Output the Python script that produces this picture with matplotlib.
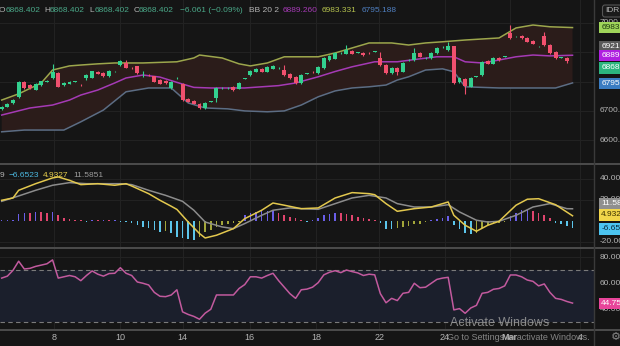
import numpy as np
import matplotlib.pyplot as plt
from matplotlib.lines import Line2D

plt.rcParams['font.family'] = ['Liberation Sans', 'DejaVu Sans']

# ---- 4h candles ----
opens = [6707, 6714, 6726, 6749, 6799, 6788, 6772, 6788, 6800, 6812,
         6829, 6788, 6792, 6800, 6789, 6812, 6813, 6833, 6830, 6817,
         6834, 6856, 6864, 6847, 6851, 6829, 6823, 6817, 6805, 6802,
         6778, 6812, 6792, 6741, 6734, 6724, 6710, 6731, 6744, 6778,
         6778, 6782, 6775, 6809, 6822, 6833, 6843, 6833, 6843, 6846,
         6839, 6826, 6816, 6795, 6826, 6833, 6829, 6846, 6873, 6877,
         6897, 6894, 6904, 6898, 6897, 6897, 6901, 6880, 6856, 6829,
         6846, 6833, 6873, 6873, 6897, 6880, 6880, 6897, 6917, 6907,
         6919, 6799, 6809, 6782, 6816, 6822, 6870, 6860, 6880, 6884,
         6965, 6953, 6956, 6949, 6938, 6919, 6953, 6924, 6901, 6881,
         6881, 6868.402]
highs = [6716, 6726, 6740, 6801, 6803, 6790, 6795, 6802, 6804, 6860,
         6832, 6797, 6801, 6803, 6791, 6826, 6836, 6835, 6832, 6838,
         6837, 6873, 6872, 6849, 6853, 6834, 6825, 6819, 6807, 6804,
         6801, 6814, 6795, 6743, 6736, 6726, 6729, 6733, 6780, 6780,
         6781, 6784, 6797, 6811, 6838, 6845, 6845, 6852, 6855, 6848,
         6856, 6828, 6818, 6824, 6828, 6835, 6852, 6882, 6889, 6899,
         6899, 6924, 6906, 6900, 6899, 6899, 6903, 6901, 6858, 6848,
         6848, 6865, 6875, 6914, 6899, 6882, 6899, 6916, 6920, 6935,
         6921, 6814, 6811, 6814, 6818, 6869, 6872, 6882, 6882, 6886,
         6992, 6955, 6958, 6951, 6940, 6921, 6969, 6926, 6903, 6883,
         6883, 6868.402]
lows = [6704, 6712, 6724, 6745, 6776, 6776, 6770, 6786, 6798, 6808,
        6780, 6786, 6790, 6798, 6786, 6805, 6811, 6824, 6815, 6815,
        6832, 6854, 6845, 6844, 6826, 6816, 6820, 6798, 6790, 6793,
        6776, 6810, 6735, 6729, 6722, 6707, 6708, 6729, 6732, 6776,
        6776, 6769, 6773, 6807, 6820, 6831, 6831, 6831, 6841, 6844,
        6820, 6810, 6790, 6793, 6824, 6830, 6827, 6844, 6871, 6875,
        6895, 6892, 6892, 6896, 6888, 6894, 6899, 6854, 6827, 6827,
        6822, 6831, 6871, 6871, 6882, 6878, 6878, 6895, 6915, 6905,
        6793, 6795, 6758, 6780, 6814, 6820, 6858, 6858, 6871, 6882,
        6946, 6951, 6946, 6933, 6926, 6917, 6922, 6895, 6878, 6879,
        6863, 6868.402]
closes = [6714, 6724, 6738, 6799, 6778, 6779, 6792, 6800, 6802, 6833,
          6783, 6795, 6799, 6801, 6788, 6822, 6834, 6826, 6817, 6836,
          6835, 6868, 6847, 6846, 6828, 6829, 6822, 6800, 6792, 6795,
          6799, 6812, 6737, 6731, 6724, 6710, 6727, 6731, 6778, 6778,
          6779, 6771, 6795, 6809, 6836, 6843, 6833, 6850, 6853, 6846,
          6822, 6812, 6795, 6822, 6826, 6832, 6850, 6880, 6887, 6897,
          6897, 6907, 6894, 6898, 6890, 6896, 6901, 6856, 6829, 6846,
          6833, 6863, 6873, 6897, 6884, 6880, 6897, 6914, 6918, 6921,
          6795, 6812, 6785, 6812, 6816, 6867, 6860, 6880, 6873, 6884,
          6948, 6953, 6948, 6935, 6928, 6919, 6924, 6897, 6880, 6881,
          6870, 6868.402]

# ---- Bollinger 20 2 (candle index, price) ----
bb_up_idx = [0, 3, 7, 9, 12, 14, 17, 20, 25, 31, 34, 35, 39, 42, 44, 47, 50, 53,
             56, 59, 62, 65, 69, 72, 75, 78, 82, 88, 91, 94, 97, 101]
bb_up = [6737, 6758, 6795, 6839, 6853, 6856, 6860, 6863, 6863, 6867, 6880, 6890,
         6880, 6860, 6853, 6863, 6884, 6884, 6884, 6897, 6914, 6931, 6931, 6924,
         6931, 6935, 6941, 6948, 6982, 6992, 6986, 6983.3]
bb_mid_idx = [0, 5, 9, 12, 14, 17, 20, 22, 25, 28, 31, 34, 37, 43, 49, 52, 56, 59,
              62, 66, 70, 74, 77, 80, 82, 85, 88, 91, 94, 97, 101]
bb_mid = [6686, 6710, 6720, 6737, 6754, 6771, 6795, 6812, 6822, 6815, 6797, 6780,
          6778, 6778, 6786, 6795, 6816, 6834, 6850, 6867, 6867, 6877, 6884, 6884,
          6867, 6863, 6873, 6884, 6890, 6887, 6889.26]
bb_lo_idx = [0, 4, 11, 14, 18, 22, 26, 30, 31, 33, 36, 40, 43, 47, 50, 53, 56, 59,
             62, 65, 68, 70, 72, 75, 78, 80, 82, 88, 98, 101]
bb_lo = [6629, 6635, 6635, 6663, 6703, 6765, 6778, 6778, 6761, 6727, 6710, 6707,
         6700, 6697, 6700, 6720, 6748, 6768, 6778, 6782, 6788, 6805, 6816, 6839,
         6843, 6833, 6782, 6778, 6778, 6795.19]

# ---- MACD ----
macd_idx = [0, 2, 3, 6, 9, 10, 12, 14, 17, 20, 22, 23, 26, 28, 30, 31, 32, 33, 35,
            36, 38, 41, 43, 46, 48, 50, 53, 56, 59, 62, 65, 66, 68, 70, 73, 76, 79,
            80, 82, 84, 86, 88, 91, 93, 95, 98, 101]
macd_val = [19.7, 21.9, 29.2, 35.5, 41.0, 41.9, 38.7, 34.6, 35.5, 34.0, 35.5, 33.3,
            26.0, 19.7, 14.0, 11.0, 5.0, -1.0, -12.0, -16.2, -13.6, -7.3, 2.2, 10.2,
            17.1, 15.0, 11.7, 12.4, 21.9, 27.0, 26.0, 25.0, 16.5, 9.2, 11.7, 13.3,
            18.1, 5.4, -4.1, -9.8, -4.1, -0.3, 15.0, 20.7, 21.2, 15.5, 4.93]
signal_idx = [0, 3, 6, 9, 12, 15, 17, 21, 23, 26, 29, 32, 34, 36, 39, 41, 43, 46, 48,
              51, 53, 56, 59, 62, 65, 68, 70, 73, 76, 79, 81, 84, 86, 88, 91, 94, 97,
              100, 101]
signal_val = [18.7, 23.8, 29.2, 34.0, 36.5, 35.5, 35.5, 35.5, 34.6, 29.2, 24.4, 18.7,
              10.2, -1.0, -5.7, -7.3, -2.5, 5.4, 10.2, 12.4, 11.7, 11.1, 16.5, 21.9,
              24.4, 21.9, 16.5, 13.3, 13.3, 15.5, 8.6, 0.7, -1.0, -0.3, 5.4, 13.3,
              16.5, 11.7, 11.59]
hist = [0.4, 0.5, 1.0, 7.0, 7.9, 7.3, 8.9, 8.6, 7.9, 8.9,
        5.7, 3.2, 1.9, 1.0, 0.5, -0.3, 0.3, 0.2, 0.3, 0.2,
        0.3, -0.3, -0.8, -1.6, -3.8, -5.4, -7.0, -8.6, -10.2, -9.5,
        -11.5, -14.9, -16.5, -17.1, -18.0, -14.9, -10.2, -8.6, -5.4, -3.8,
        -3.2, -1.9, -0.5, 5.7, 7.3, 8.9, 9.1, 9.5, 10.2, 7.3,
        5.7, 4.1, 2.5, 0.3, -0.3, 0.3, 3.2, 5.7, 7.0, 7.9,
        7.9, 7.0, 5.7, 3.8, 2.5, 2.2, 1.0, -1.6, -7.9, -7.9,
        -6.3, -6.0, -4.8, -3.2, -2.5, -1.0, 0.5, 1.6, 2.5, 4.8,
        -3.8, -7.9, -11.1, -12.7, -11.1, -6.3, -3.8, -2.5, -1.6, -0.5,
        4.8, 7.9, 10.2, 11.1, 9.5, 7.9, 5.7, 3.2, -1.6, -3.2,
        -4.8, -6.65]

# ---- RSI ----
rsi = [64, 65.5, 70, 77, 71, 71.5, 73, 74, 75, 78,
       64, 65, 66, 65, 62, 66, 69.5, 67, 65.5, 67.5,
       67.7, 72, 67.7, 66, 61, 60, 58.7, 53, 50, 49.7,
       51, 55, 38, 36, 34.5, 32.3, 37, 40, 51, 51,
       51, 51, 56, 59, 65, 65, 64, 66, 67.7, 62,
       57, 52, 48.4, 55, 55.5, 57, 60.5, 66.5, 68.5, 69.7,
       68.2, 70.2, 69, 68, 66, 67, 66.5, 52, 45, 48.4,
       46.7, 52.3, 53, 60, 56.6, 57, 60, 63, 64, 64.6,
       39.5, 40.5, 36.9, 41, 43, 52.3, 53, 55.4, 56, 58,
       66.4, 66.4, 65, 62.5, 61.5, 58, 59.5, 53, 48.4, 47.6,
       46, 44.75]

tick_pos = [9.3, 21.0, 32.0, 43.9, 55.6, 66.8, 78.4, 89.9, 102.4]
tick_labels = ['8', '10', '14', '16', '18', '22', '24', 'Mar', '4']

# colours
BG = '#151515'
GRID = '#222222'
TXT = '#b4b4b4'
UP, DN = '#33d18f', '#f0506e'

W, H = 620, 346
fig = plt.figure(figsize=(6.2, 3.46), dpi=100)
fig.patch.set_facecolor(BG)


def px_axes(x0, y0, x1, y1):
    ax = fig.add_axes([x0 / W, 1 - y1 / H, (x1 - x0) / W, (y1 - y0) / H])
    ax.set_facecolor(BG)
    for s in ax.spines.values():
        s.set_visible(False)
    ax.set_xticks([]); ax.set_yticks([])
    ax.set_xlim(-0.3, 104.8)
    for t in tick_pos:
        ax.axvline(t, color=GRID, lw=0.8, zorder=0)
    return ax


# ===== price panel =====
ax = px_axes(0, 0, 594, 163)
ax.set_ylim(6523, 7077)
for lv in [6600, 6700, 6800, 6900, 7000]:
    ax.axhline(lv, color=GRID, lw=0.8, zorder=0)

ax.fill(bb_up_idx + bb_lo_idx[::-1], bb_up + bb_lo[::-1], color='#2b1c1a', lw=0, zorder=1)
ax.plot(bb_up_idx, bb_up, color='#9ca64c', lw=1.1, zorder=2)
ax.plot(bb_mid_idx, bb_mid, color='#a53ab5', lw=1.1, zorder=2)
ax.plot(bb_lo_idx, bb_lo, color='#5c6d84', lw=1.1, zorder=2)

xs = np.arange(len(closes))
o = np.array(opens); c = np.array(closes)
cols = np.where(c >= o, UP, DN)
ax.vlines(xs, lows, highs, color=cols, lw=0.8, zorder=3)
ax.bar(xs, np.maximum(np.abs(c - o), 1.5), bottom=np.minimum(o, c), width=0.7,
       color=cols, lw=0, zorder=4)

ytr = ax.get_yaxis_transform()
for v, s in [(7000, '7000.0'), (6700, '6700.0'), (6600, '6600.0')]:
    ax.text(1.01, v, s, transform=ytr, color=TXT, fontsize=6, va='center')
# price tags: (text, drawn at, box colour, text colour)
main_tags = [('6983.331', 6983, '#9fd55a', '#1d3a10'),
             ('6921.441', 6918, '#5a5a5a', '#ffffff'),
             ('6889.260', 6889, '#b020e0', '#ffffff'),
             ('6868.402', 6846, '#2cb57e', '#ffffff'),
             ('6795.188', 6792, '#3a7cc2', '#ffffff')]
for s, y, fc, tc in main_tags:
    ax.text(1.012, y, s, transform=ytr, color=tc, fontsize=6, va='center',
            bbox=dict(boxstyle='square,pad=0.25', fc=fc, ec='none'))

# ===== MACD panel =====
am = px_axes(0, 165, 594, 247)
am.set_ylim(-24.8, 53.3)
for lv in [-20, 20, 40]:
    am.axhline(lv, color=GRID, lw=0.8, zorder=0)
h = np.array(hist)
prev = np.concatenate([[0.0], h[:-1]])
hcol = np.where(h >= 0, np.where(h > prev, '#6a5ee8', '#e0456e'),
                np.where(h > prev, '#a3a63a', '#5cc6ec'))
# tiny bars still show as a dot, like on the chart
am.bar(xs, np.sign(h) * np.maximum(np.abs(h), 1.0), width=0.28, color=hcol, lw=0, zorder=2)
am.plot(signal_idx, signal_val, color='#8c8c8c', lw=1.1, zorder=3)
am.plot(macd_idx, macd_val, color='#e3c84e', lw=1.1, zorder=4)
mtr = am.get_yaxis_transform()
for v, s in [(40, '40.00'), (20, '20.00'), (-20, '-20.00')]:
    am.text(1.01, v, s, transform=mtr, color=TXT, fontsize=6, va='center')
for s, y, fc, tc in [('11.5851', 16.2, '#8f8f8f', '#ffffff'),
                     ('4.9327', 5.7, '#f2d64a', '#3a3000'),
                     ('-6.6523', -7.6, '#4cc4f0', '#0b2a3a')]:
    am.text(1.012, y, s, transform=mtr, color=tc, fontsize=6, va='center',
            bbox=dict(boxstyle='square,pad=0.25', fc=fc, ec='none'))

# ===== RSI panel =====
ar = px_axes(0, 249, 594, 329)
ar.set_ylim(24.8, 86.4)
for lv in [40, 60, 80]:
    ar.axhline(lv, color=GRID, lw=0.8, zorder=0)
ar.axhspan(30, 70, color='#1b1f2c', lw=0, zorder=1)
for lv in [30, 70]:
    ar.axhline(lv, color='#7a7a7a', lw=0.8, ls=(0, (4, 3)), zorder=2)
ar.plot(xs, rsi, color='#c25a9e', lw=1.1, zorder=3)
rtr = ar.get_yaxis_transform()
for v, s in [(80, '80.00'), (60, '60.00'), (40, '40.00')]:
    ar.text(1.01, v, s, transform=rtr, color=TXT, fontsize=6, va='center')
ar.text(1.012, 44.75, '44.75', transform=rtr, color='#ffffff', fontsize=6, va='center',
        bbox=dict(boxstyle='square,pad=0.25', fc='#e8459a', ec='none'))

xtr = ar.get_xaxis_transform()
for t, s in zip(tick_pos, tick_labels):
    ar.text(t, -0.1, s, transform=xtr, color=TXT, fontsize=6.5, ha='center', va='center',
            fontweight='bold' if s == 'Mar' else 'normal')

# ===== panel separators =====
for y in [164, 248, 330]:
    fig.add_artist(Line2D([0, 1], [1 - y / H] * 2, transform=fig.transFigure,
                          color='#4c4c4c', lw=1.4))
fig.add_artist(Line2D([594 / W] * 2, [0, 1], transform=fig.transFigure,
                      color='#3a3a3a', lw=1.0))

# ===== legends =====
hdr = [('O', -1, TXT), ('6868.402', 5.5, '#4aa888'), ('H', 44, TXT), ('6868.402', 50, '#4aa888'),
       ('L', 89.5, TXT), ('6868.402', 95, '#4aa888'), ('C', 133.5, TXT), ('6868.402', 139, '#4aa888'),
       ('\u22126.061 (\u22120.09%)', 180, '#4aa888'), ('BB 20 2', 249, TXT),
       ('6889.260', 283, '#a53ab5'), ('6983.331', 322, '#b5c24e'), ('6795.188', 362, '#4f7fc0')]
for s, x, col in hdr:
    fig.text(x / W, 1 - 10 / H, s, color=col, fontsize=6, va='center')
for s, x, col in [('9', 0, TXT), ('\u22126.6523', 9, '#4cb8e0'), ('4.9327', 43, '#e8cf4e'),
                  ('11.5851', 73, '#9a9a9a')]:
    fig.text(x / W, 1 - 175 / H, s, color=col, fontsize=6, va='center')

fig.text(605 / W, 1 - 11 / H, 'IDR', color=TXT, fontsize=6, va='center',
         bbox=dict(boxstyle='round,pad=0.3', fc='#1a1a1a', ec='#555555', lw=0.8))

fig.text(450 / W, 1 - 323 / H, 'Activate Windows', color='#9a9a9a', fontsize=9,
         va='center', alpha=0.85)
fig.text(447 / W, 1 - 337 / H, 'Go to Settings to activate Windows.', color='#9a9a9a',
         fontsize=6.5, va='center', alpha=0.85)
fig.text(611 / W, 1 - 337 / H, '\u2699', color='#888888', fontsize=8, va='center')

fig.savefig('out.png', dpi=100, facecolor=BG)
